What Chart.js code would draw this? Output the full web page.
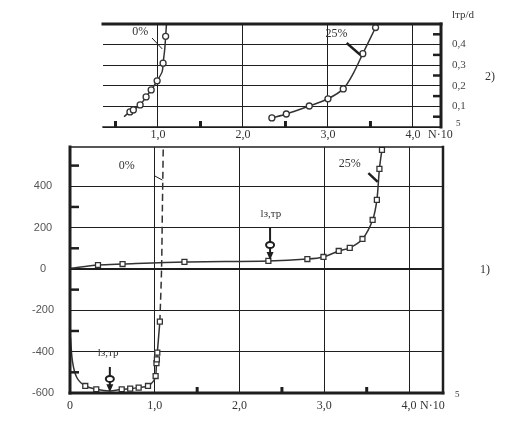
<!DOCTYPE html>
<html>
<head>
<meta charset="utf-8">
<script src="https://cdn.jsdelivr.net/npm/chart.js@4"></script>
<style>
  html, body { margin: 0; padding: 0; background: #fff; }
  #wrap { position: relative; width: 514px; height: 432px; }
  canvas { position: absolute; left: 0; }
  #chart_top { top: 0; }
  #chart_bot { top: 140px; }
</style>
</head>
<body>
<div id="wrap">
  <canvas id="chart_top" width="514" height="140"></canvas>
  <canvas id="chart_bot" width="514" height="292"></canvas>
</div>
<script>
const INK = '#1e1e1e';
const CURVE = '#333';
const SERIF = "'Liberation Serif', 'DejaVu Serif', serif";
const SANS = "'Liberation Sans', Arial, sans-serif";

// 2) верхний график: lтр/d от N (x10^5)
const top0LineX = [0.60, 0.67, 0.71, 0.79, 0.86, 0.92, 0.99, 1.05, 1.06, 1.08, 1.09, 1.10];
const top0LineY = [0.050, 0.073, 0.083, 0.107, 0.146, 0.180, 0.224, 0.270, 0.310, 0.380, 0.440, 0.500];
const top0MarkX = [0.67, 0.71, 0.79, 0.86, 0.92, 0.99, 1.06, 1.09];
const top0MarkY = [0.073, 0.083, 0.107, 0.146, 0.180, 0.224, 0.310, 0.440];

const top25LineX = [2.34, 2.51, 2.78, 3.00, 3.18, 3.30, 3.41, 3.56];
const top25LineY = [0.044, 0.063, 0.102, 0.137, 0.185, 0.262, 0.356, 0.483];
const top25MarkX = [2.34, 2.51, 2.78, 3.00, 3.18, 3.41, 3.56];
const top25MarkY = [0.044, 0.063, 0.102, 0.137, 0.185, 0.356, 0.483];

const topTicksX = [1, 2, 3, 4];
const topTicksY = [0, 0.1, 0.2, 0.3, 0.4];

// 1) нижний график
const bot0LineX = [0.005, 0.03, 0.08, 0.18, 0.31, 0.47, 0.61, 0.71, 0.81, 0.92, 0.98, 1.01, 1.02, 1.03, 1.06];
const bot0LineY = [-330, -450, -525, -566, -582, -590, -582, -579, -574, -566, -545, -518, -456, -405, -255];
const bot0MarkX = [0.18, 0.31, 0.61, 0.71, 0.81, 0.92, 1.01, 1.02, 1.025, 1.03, 1.06];
const bot0MarkY = [-566, -582, -582, -579, -574, -566, -518, -456, -437, -405, -255];
const bot0DashX = [1.06, 1.08, 1.09, 1.10];
const bot0DashY = [-255, 0, 300, 590];

const bot25LineX = [0.0, 0.33, 0.62, 1.35, 2.34, 2.80, 2.99, 3.17, 3.30, 3.45, 3.57, 3.62, 3.65, 3.68, 3.69];
const bot25LineY = [3, 19, 24, 34, 39, 48, 58, 87, 102, 145, 237, 334, 484, 576, 590];
const bot25MarkX = [0.33, 0.62, 1.35, 2.34, 2.80, 2.99, 3.17, 3.30, 3.45, 3.57, 3.62, 3.65, 3.68];
const bot25MarkY = [19, 24, 34, 39, 48, 58, 87, 102, 145, 237, 334, 484, 576];

const botTicksX = [0, 1, 2, 3, 4];
const botTicksY = [-600, -400, -200, 0, 200, 400];

function pairs(xs, ys) {
    return xs.map((v, i) => ({ x: v, y: ys[i] }));
}

function comma(v) {
    if (Math.abs(v) < 1e-9) return '0';
    return v.toFixed(1).replace('.', ',');
}

function fixTicks(list) {
    return scale => { scale.ticks = list.map(v => ({ value: v })); };
}

// фиксированный размер оси без автоматических отступов
function fixSize(w, h) {
    return s => {
        if (w !== null) s.width = w;
        if (h !== null) s.height = h;
        s.paddingTop = 0;
        s.paddingBottom = 0;
        s.paddingLeft = 0;
        s.paddingRight = 0;
    };
}

function lineSet(data, dash) {
    return {
        data: data,
        showLine: true,
        borderColor: CURVE,
        borderWidth: 1.5,
        borderDash: dash || [],
        pointRadius: 0,
        tension: 0.3,
        order: 2
    };
}

function markSet(data, style, r) {
    return {
        data: data,
        showLine: false,
        pointStyle: style,
        pointRadius: r,
        backgroundColor: '#fff',
        borderColor: CURVE,
        borderWidth: 1.3,
        order: 1
    };
}

// рамка, засечки, выноски, стрелки, подписи
const extras = {
    id: 'extras',
    afterDraw(chart, args, o) {
        const { ctx, chartArea: a, scales: { x, y } } = chart;
        ctx.save();
        ctx.strokeStyle = INK;
        ctx.fillStyle = INK;
        ctx.lineCap = 'square';
        const seg = (w, x1, y1, x2, y2) => {
            if (!w) return;
            ctx.lineWidth = w;
            ctx.beginPath();
            ctx.moveTo(x1, y1);
            ctx.lineTo(x2, y2);
            ctx.stroke();
        };
        const f = o.frame || {};
        seg(f.top, a.left, a.top, a.right, a.top);
        seg(f.right, a.right, a.top, a.right, a.bottom);
        seg(f.bottom, a.left, a.bottom, a.right, a.bottom);
        seg(f.left, a.left, a.top, a.left, a.bottom);

        ctx.lineCap = 'butt';
        (o.minorX || []).forEach(v => {
            const px = x.getPixelForValue(v);
            seg(3, px, a.bottom, px, a.bottom - o.tickX);
        });
        (o.minorY || []).forEach(v => {
            const py = y.getPixelForValue(v);
            const x0 = o.tickSide === 'right' ? a.right : a.left;
            const dx = o.tickSide === 'right' ? -o.tickY : o.tickY;
            seg(2.5, x0, py, x0 + dx, py);
        });

        (o.leaders || []).forEach(l => {
            seg(l[4], x.getPixelForValue(l[0]), y.getPixelForValue(l[1]),
                x.getPixelForValue(l[2]), y.getPixelForValue(l[3]));
        });

        (o.arrows || []).forEach(ar => {
            const px = x.getPixelForValue(ar.x);
            const p1 = y.getPixelForValue(ar.from);
            const p2 = y.getPixelForValue(ar.to);
            const pc = y.getPixelForValue(ar.ring);
            seg(2, px, p1, px, p2 - 6);
            ctx.beginPath();
            ctx.moveTo(px, p2);
            ctx.lineTo(px - 3.5, p2 - 8);
            ctx.lineTo(px + 3.5, p2 - 8);
            ctx.closePath();
            ctx.fill();
            ctx.beginPath();
            ctx.ellipse(px, pc, 4, 3, 0, 0, Math.PI * 2);
            ctx.fillStyle = '#fff';
            ctx.fill();
            ctx.lineWidth = 2;
            ctx.stroke();
            ctx.fillStyle = INK;
        });

        ctx.textBaseline = 'middle';
        (o.labels || []).forEach(t => {
            ctx.font = t.font;
            ctx.fillStyle = '#333';
            ctx.textAlign = 'center';
            ctx.fillText(t.text, x.getPixelForValue(t.x), y.getPixelForValue(t.y));
        });
        (o.notes || []).forEach(t => {
            ctx.font = t.font;
            ctx.fillStyle = '#333';
            ctx.textAlign = t.align || 'center';
            ctx.fillText(t.text, t.px, t.py);
        });
        ctx.restore();
    }
};

const gridStyle = {
    color: INK,
    lineWidth: 1,
    drawTicks: false
};

// верхний график
new Chart(document.getElementById('chart_top'), {
    type: 'scatter',
    data: {
        datasets: [
            lineSet(pairs(top0LineX, top0LineY)),
            markSet(pairs(top0MarkX, top0MarkY), 'circle', 3),
            lineSet(pairs(top25LineX, top25LineY)),
            markSet(pairs(top25MarkX, top25MarkY), 'circle', 3)
        ]
    },
    options: {
        responsive: false,
        animation: false,
        layout: { padding: { left: 103, top: 24, right: 33, bottom: 0 } },
        plugins: {
            legend: { display: false },
            tooltip: { enabled: false },
            extras: {
                frame: { top: 3, right: 3, bottom: 1.5, left: 0 },
                minorX: [0.5, 1.5, 2.5, 3.5],
                tickX: 6,
                minorY: [0.05, 0.15, 0.25, 0.35, 0.45],
                tickY: 8,
                tickSide: 'right',
                leaders: [[0.93, 0.432, 1.05, 0.379, 1], [3.22, 0.408, 3.38, 0.35, 2.5]],
                labels: [
                    { text: '0%', x: 0.79, y: 0.461, font: '12px ' + SERIF },
                    { text: '25%', x: 3.1, y: 0.451, font: '12px ' + SERIF }
                ],
                notes: [
                    { text: 'lтр/d', px: 463, py: 15, font: '11px ' + SERIF },
                    { text: '2)', px: 490, py: 77, font: '12px ' + SERIF },
                    { text: 'N·10', px: 428, py: 135, align: 'left', font: '12px ' + SERIF },
                    { text: '5', px: 456, py: 124, align: 'left', font: '9px ' + SERIF }
                ]
            }
        },
        scales: {
            x: {
                type: 'linear',
                min: 0.353,
                max: 4.33,
                afterBuildTicks: fixTicks(topTicksX),
                afterFit: fixSize(null, 13),
                grid: gridStyle,
                border: { display: false },
                ticks: {
                    padding: 1,
                    color: '#333',
                    font: { family: SERIF, size: 12 },
                    callback: v => comma(v)
                }
            },
            y: {
                position: 'right',
                min: 0,
                max: 0.5,
                afterBuildTicks: fixTicks(topTicksY),
                afterFit: fixSize(40, null),
                grid: gridStyle,
                border: { display: false },
                ticks: {
                    padding: 11,
                    color: '#444',
                    font: { family: SERIF, size: 11 },
                    callback: v => v > 0.05 ? comma(v) : ''
                }
            }
        }
    },
    plugins: [extras]
});

// нижний график
new Chart(document.getElementById('chart_bot'), {
    type: 'scatter',
    data: {
        datasets: [
            lineSet(pairs(bot0LineX, bot0LineY)),
            lineSet(pairs(bot0DashX, bot0DashY), [7, 4]),
            markSet(pairs(bot0MarkX, bot0MarkY), 'rect', 3.5),
            lineSet(pairs(bot25LineX, bot25LineY)),
            markSet(pairs(bot25MarkX, bot25MarkY), 'rect', 3.5)
        ]
    },
    options: {
        responsive: false,
        animation: false,
        layout: { padding: { left: 0, top: 7, right: 71, bottom: 9 } },
        plugins: {
            legend: { display: false },
            tooltip: { enabled: false },
            extras: {
                frame: { top: 1.5, right: 2.5, bottom: 3, left: 3 },
                minorX: [1.5, 2.5, 3.5],
                tickX: 6,
                minorY: [500, 300, 100, -100, -300, -500],
                tickY: 9,
                tickSide: 'left',
                leaders: [[1.0, 450, 1.09, 430, 1], [3.52, 464, 3.63, 421, 2.5]],
                arrows: [
                    { x: 2.36, from: 203, to: 43, ring: 116 },
                    { x: 0.47, from: -474, to: -596, ring: -532 }
                ],
                labels: [
                    { text: '0%', x: 0.67, y: 498, font: '12px ' + SERIF },
                    { text: '25%', x: 3.3, y: 508, font: '12px ' + SERIF },
                    { text: 'lз,тр', x: 2.37, y: 266, font: '11px ' + SERIF },
                    { text: 'lз,тр', x: 0.45, y: -406, font: '11px ' + SERIF }
                ],
                notes: [
                    { text: '1)', px: 485, py: 130, font: '12px ' + SERIF },
                    { text: 'N·10', px: 420, py: 266, align: 'left', font: '12px ' + SERIF },
                    { text: '5', px: 455, py: 255, align: 'left', font: '9px ' + SERIF }
                ]
            }
        },
        scales: {
            x: {
                type: 'linear',
                min: 0,
                max: 4.4,
                afterBuildTicks: fixTicks(botTicksX),
                afterFit: fixSize(null, 30),
                grid: gridStyle,
                border: { display: false },
                ticks: {
                    padding: 6,
                    color: '#333',
                    font: { family: SERIF, size: 12 },
                    callback: v => comma(v)
                }
            },
            y: {
                min: -600,
                max: 590,
                afterBuildTicks: fixTicks(botTicksY),
                afterFit: fixSize(70, null),
                grid: {
                    color: INK,
                    drawTicks: false,
                    lineWidth: c => (c.tick && c.tick.value === 0) ? 2 : 1
                },
                border: { display: false },
                ticks: {
                    padding: 16,
                    crossAlign: 'center',
                    color: '#555',
                    font: { family: SANS, size: 11 },
                    callback: v => String(v)
                }
            }
        }
    },
    plugins: [extras]
});
</script>
</body>
</html>
